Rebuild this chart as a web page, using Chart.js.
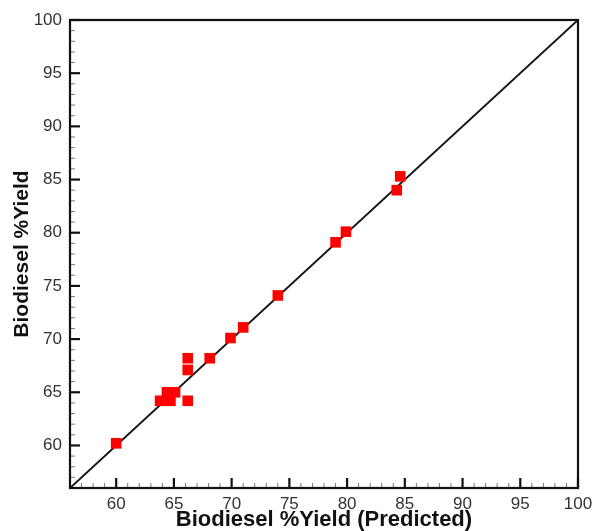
<!DOCTYPE html>
<html>
<head>
<meta charset="utf-8">
<script src="https://cdn.jsdelivr.net/npm/chart.js@4/dist/chart.umd.min.js"></script>
<style>
  html, body { margin: 0; padding: 0; background: #fff; }
  #wrap { width: 592px; height: 531px; }
</style>
</head>
<body>
<div id="wrap"><canvas id="parity"></canvas></div>
<script>
// predicted vs. experimental biodiesel yield (%)
const predictedYield = [60.0, 63.8, 64.4, 64.6, 64.7, 65.1, 66.2, 66.2, 66.2, 68.1, 69.9, 71.0, 74.0, 79.0, 79.9, 84.3, 84.6];
const actualYield    = [60.2, 64.2, 65.0, 64.6, 64.2, 65.0, 64.2, 67.1, 68.2, 68.2, 70.1, 71.1, 74.1, 79.1, 80.1, 84.0, 85.3];
const axisRange = [56, 100];
const labelStart = 60;
const labelStep = 5;

const fontFamily = "'Liberation Sans', Arial, Helvetica, sans-serif";

// frame + inward tick marks on left/bottom axes
const framePlugin = {
    id: 'frame',
    beforeDatasetsDraw(chart) {
        const { ctx, chartArea: a, scales } = chart;
        ctx.save();
        ctx.lineCap = 'butt';

        scales.x.ticks.forEach(t => {
            const px = scales.x.getPixelForValue(t.value);
            const major = t.value % labelStep === 0;
            ctx.strokeStyle = major ? '#111' : '#777';
            ctx.lineWidth = major ? 2.2 : 1;
            ctx.beginPath();
            ctx.moveTo(px, a.bottom);
            ctx.lineTo(px, a.bottom - (major ? 10 : 5));
            ctx.stroke();
        });
        scales.y.ticks.forEach(t => {
            const py = scales.y.getPixelForValue(t.value);
            const major = t.value % labelStep === 0;
            ctx.strokeStyle = major ? '#111' : '#777';
            ctx.lineWidth = major ? 2.2 : 1;
            ctx.beginPath();
            ctx.moveTo(a.left, py);
            ctx.lineTo(a.left + (major ? 10 : 5), py);
            ctx.stroke();
        });

        ctx.strokeStyle = '#111';
        ctx.lineWidth = 2.2;
        ctx.strokeRect(a.left, a.top, a.right - a.left, a.bottom - a.top);
        ctx.restore();
    }
};

const tickLabel = v => (v % labelStep === 0 && v >= labelStart) ? String(v) : '';

new Chart(document.getElementById('parity'), {
    type: 'scatter',
    data: {
        datasets: [
            {
                data: predictedYield.map((x, i) => ({ x: x, y: actualYield[i] })),
                pointStyle: 'rect',
                pointRadius: 7.5,
                pointHoverRadius: 7.5,
                backgroundColor: '#ff0000',
                borderWidth: 0,
                order: 1
            },
            {
                type: 'line',
                data: [{ x: axisRange[0], y: axisRange[0] }, { x: axisRange[1], y: axisRange[1] }],
                borderColor: '#151515',
                borderWidth: 2,
                pointRadius: 0,
                fill: false,
                order: 2
            }
        ]
    },
    options: {
        responsive: true,
        maintainAspectRatio: false,
        animation: false,
        layout: { padding: { top: 20, right: 14, left: 0, bottom: 0 } },
        plugins: {
            legend: { display: false },
            tooltip: { enabled: false }
        },
        scales: {
            x: {
                type: 'linear',
                min: axisRange[0],
                max: axisRange[1],
                grid: { display: false, drawTicks: false },
                border: { display: false },
                ticks: {
                    stepSize: 1,
                    autoSkip: false,
                    maxTicksLimit: 100,
                    maxRotation: 0,
                    padding: 6,
                    color: '#333',
                    font: { family: fontFamily, size: 17 },
                    callback: tickLabel
                },
                title: {
                    display: true,
                    text: 'Biodiesel %Yield (Predicted)',
                    color: '#111',
                    font: { family: fontFamily, size: 22, weight: 'bold', lineHeight: 1.05 },
                    padding: { top: 0, bottom: 0 }
                },
                afterFit(scale) {
                    scale.height = 43;
                    scale.paddingLeft = 0;
                    scale.paddingRight = 0;
                }
            },
            y: {
                type: 'linear',
                min: axisRange[0],
                max: axisRange[1],
                grid: { display: false, drawTicks: false },
                border: { display: false },
                ticks: {
                    stepSize: 1,
                    autoSkip: false,
                    maxTicksLimit: 100,
                    padding: 8,
                    color: '#333',
                    font: { family: fontFamily, size: 17 },
                    callback: tickLabel
                },
                title: {
                    display: true,
                    text: 'Biodiesel %Yield',
                    color: '#111',
                    font: { family: fontFamily, size: 21, weight: 'bold', lineHeight: 1 },
                    padding: { top: 12, bottom: 0 }
                },
                afterFit(scale) {
                    scale.width = 70;
                    scale.paddingTop = 0;
                    scale.paddingBottom = 0;
                }
            }
        }
    },
    plugins: [framePlugin]
});
</script>
</body>
</html>
